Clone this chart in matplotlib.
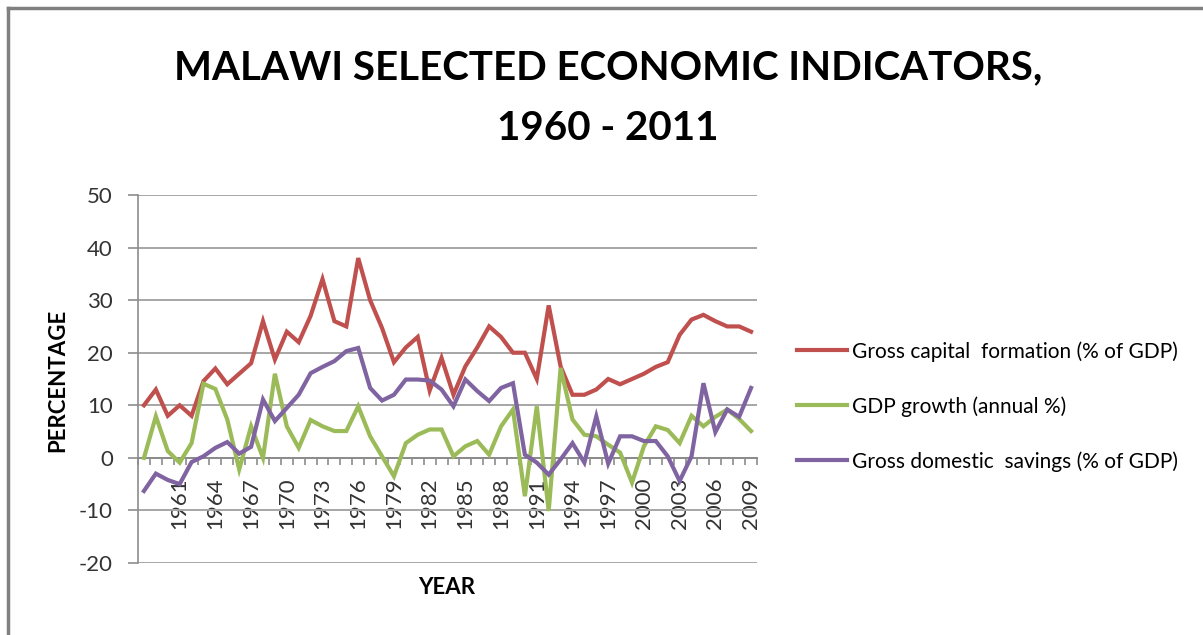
import matplotlib
matplotlib.use("Agg")
import matplotlib.pyplot as plt
from matplotlib.lines import Line2D
import numpy as np

plt.rcParams['font.family'] = ['Lato', 'DejaVu Sans']
plt.rcParams['axes.unicode_minus'] = False

# category labels shown every third year
tick_years = list(range(1961, 2010, 3))

# Gross capital formation (% of GDP)
gcf = [10, 13, 8, 10, 8, 14.6, 17, 14, 16, 18, 26, 18.7, 24, 22, 27, 34, 26, 25,
       38, 30, 24.7, 18.2, 21, 23, 12.8, 19, 12, 17.4, 21, 25, 23, 20, 20, 15,
       29, 17.4, 12, 12, 13, 15, 14, 15, 16, 17.3, 18.2, 23.4, 26.3, 27.2, 26,
       25, 25, 24]
# GDP growth (annual %)
gdp = [0, 7.9, 1.3, -0.9, 2.8, 14.1, 13.1, 7.3, -2.2, 6, 0, 16, 6, 1.9, 7.2, 6,
       5.1, 5.1, 9.8, 4.1, 0.3, -3.5, 2.8, 4.4, 5.4, 5.4, 0.3, 2.2, 3.2, 0.6, 6,
       9.2, -7.3, 9.8, -10.1, 17.1, 7.3, 4.4, 4.1, 2.5, 1, -4.7, 2.2, 6, 5.3,
       2.8, 8, 6, 7.8, 9.2, 7.4, 5.1]
# Gross domestic savings (% of GDP)
sav = [-6.3, -3, -4.2, -5, -0.8, 0.3, 1.9, 3, 0.8, 2.1, 11.1, 7, 9.5, 12, 16.1,
       17.3, 18.4, 20.3, 20.9, 13.3, 10.9, 12, 14.9, 14.9, 14.7, 13, 9.8, 14.9,
       12.7, 10.8, 13.3, 14.2, 0.6, -0.9, -3.2, -0.3, 2.8, -0.9, 7.9, -1.1, 4.1,
       4.1, 3.2, 3.2, 0.3, -4.4, 0.3, 14.2, 4.9, 9.2, 7.8, 13.3]

series = ["Gross capital  formation (% of GDP)", "GDP growth (annual %)",
          "Gross domestic  savings (% of GDP)"]
colors = ["#C0504D", "#9BBB59", "#8064A2"]

W, H = 1203, 635
fig = plt.figure(figsize=(W / 100, H / 100), dpi=100)
ax = fig.add_axes([138 / W, 1 - 563 / H, (757 - 138) / W, (563 - 195) / H])

x = np.arange(len(gcf))
for vals, name, c in zip([gcf, gdp, sav], series, colors):
    ax.plot(x, vals, color=c, lw=3, label=name, solid_joinstyle='miter', zorder=3)

ax.set_xlim(-0.5, len(x) - 0.5)
ax.set_ylim(-20, 50)
ax.set_yticks(range(-20, 51, 10))
ax.yaxis.grid(True, color="#a6a6a6", lw=1.4)
ax.set_axisbelow(True)

grey = "#8c8c8c"
for s in ["top", "right"]:
    ax.spines[s].set_visible(False)
ax.spines["left"].set_color(grey)
ax.spines["left"].set_linewidth(1.2)
ax.spines["bottom"].set_position(("data", 0))
ax.spines["bottom"].set_color(grey)
ax.spines["bottom"].set_linewidth(1.4)

ax.set_xticks(x[3::3])
ax.set_xticklabels([str(y) for y in tick_years], rotation=90)
ax.set_xticks(np.arange(-0.5, len(x), 1), minor=True)
ax.tick_params(axis="x", which="major", length=0, pad=14, labelsize=16, labelcolor="#333333")
ax.tick_params(axis="x", which="minor", length=5, color=grey, width=1.2)
ax.tick_params(axis="y", length=7, color=grey, width=1.2, pad=11, labelsize=16, labelcolor="#333333")

fig.text(608 / W, 1 - 68 / H, "MALAWI SELECTED ECONOMIC INDICATORS,", ha="center", va="center",
         fontsize=29, fontweight="bold", color="black")
fig.text(608 / W, 1 - 129 / H, "1960 - 2011", ha="center", va="center",
         fontsize=29, fontweight="bold", color="black")
fig.text(58 / W, 1 - 380 / H, "PERCENTAGE", rotation=90, ha="center", va="center",
         fontsize=16, fontweight="bold")
fig.text(447 / W, 1 - 588 / H, "YEAR", ha="center", va="center", fontsize=16, fontweight="bold")

fig.legend(loc="upper left", bbox_to_anchor=(797 / W, 1 - 341 / H), frameon=False, fontsize=15,
           handlelength=2.4, handletextpad=0.25, labelspacing=1.65, borderaxespad=0, borderpad=0)

# outer frame (left and top edges)
fig.add_artist(Line2D([8 / W, 8 / W], [0, 1 - 8 / H], transform=fig.transFigure, color="#808080", lw=2.5))
fig.add_artist(Line2D([8 / W, 1], [1 - 8 / H, 1 - 8 / H], transform=fig.transFigure, color="#808080", lw=2.5))

fig.savefig("out.png", dpi=100)
